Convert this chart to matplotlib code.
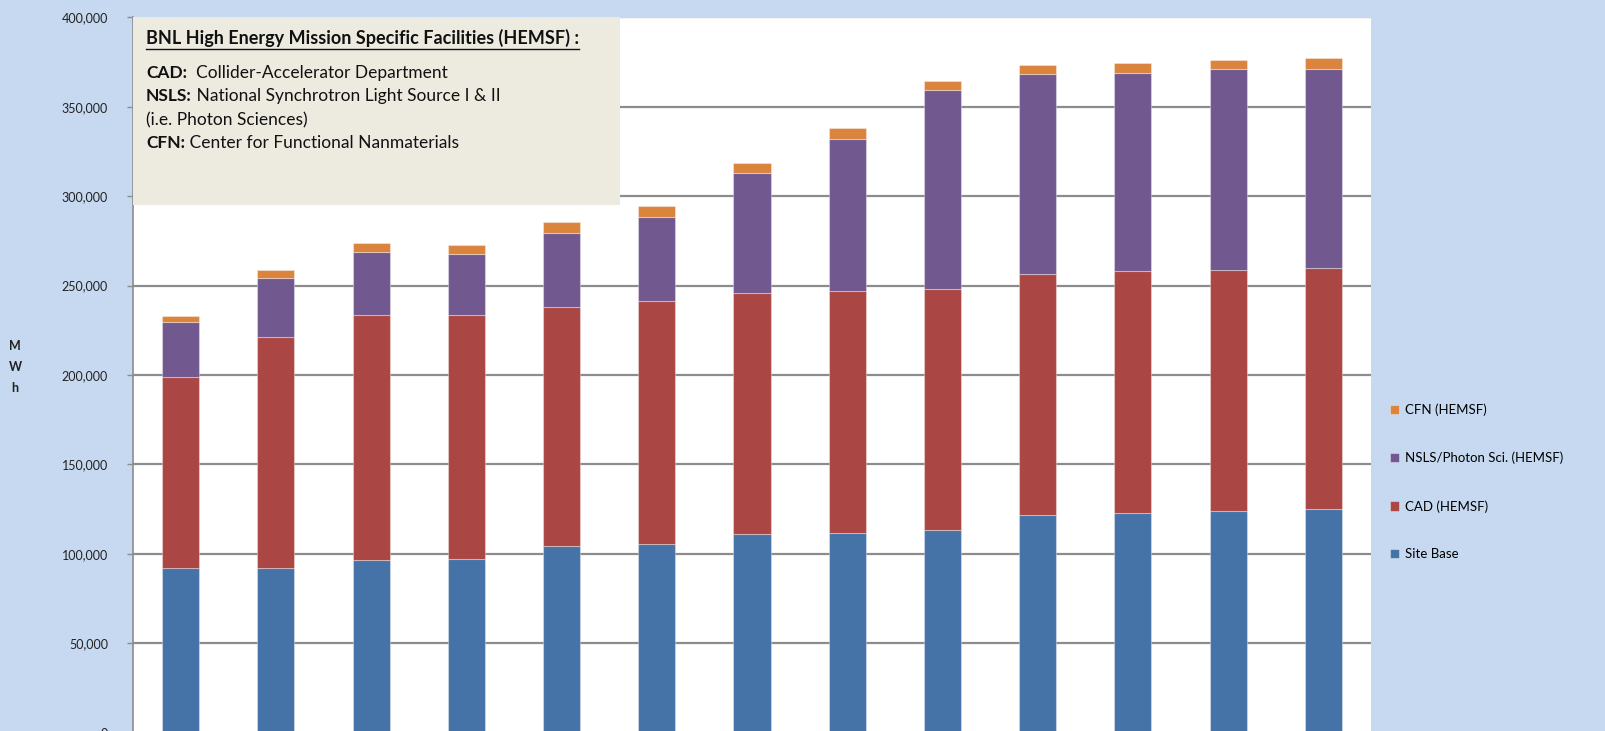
import numpy as np
import matplotlib.pyplot as plt
from matplotlib.lines import Line2D
from matplotlib.text import Annotation

# fiscal years are cut off in the source image; 13 stacked columns
categories = ["FY%d" % y for y in range(2011, 2024)]
site_base = [91800, 91800, 96500, 97000, 104500, 105300, 110900, 111400, 113300, 121700, 122900, 123900, 125000]
cad = [106900, 129200, 137000, 136500, 133700, 136100, 134800, 135700, 134800, 134600, 135200, 134800, 135000]
nsls = [31100, 33300, 35100, 34000, 41100, 47200, 67100, 85200, 111300, 112000, 110900, 112300, 111100]
cfn = [3200, 4700, 5400, 5200, 6200, 6000, 5900, 5900, 5200, 5400, 5800, 5200, 6000]
series_names = ["Site Base", "CAD (HEMSF)", "NSLS/Photon Sci. (HEMSF)", "CFN (HEMSF)"]
yticks = [0, 50000, 100000, 150000, 200000, 250000, 300000, 350000, 400000]

colors = ["#4572A7", "#AA4643", "#71588F", "#DB843D"]
bg = "#C6D9F0"

plt.rcParams['font.family'] = ['Lato', 'DejaVu Sans']

fig = plt.figure(figsize=(16.06, 7.31), dpi=100, facecolor=bg)
ax = fig.add_axes([133 / 1606, -1.5 / 731, (1371 - 133) / 1606, (732.5 - 17.5) / 731])
ax.set_facecolor("white")

x = np.arange(len(categories))
bottom = np.zeros(len(categories))
handles = []
for vals, name, c in zip([site_base, cad, nsls, cfn], series_names, colors):
    b = ax.bar(x, vals, width=0.39, bottom=bottom, color=c, label=name,
               edgecolor=(1, 1, 1, 0.35), linewidth=0.8, zorder=3)
    handles.append(b)
    bottom += np.array(vals)

ax.set_xlim(-0.5, len(categories) - 0.5)
ax.set_ylim(0, 400000)
ax.set_yticks(yticks)
ax.set_yticklabels(["{:,}".format(v) for v in yticks], fontsize=9, color="#222222")
ax.set_xticks([])
ax.yaxis.grid(True, color="#8c8c8c", linewidth=1.6, zorder=1)
ax.tick_params(axis="y", length=4, width=1, color="#8c8c8c", pad=14)
for s in ["top", "right", "bottom"]:
    ax.spines[s].set_visible(False)
ax.spines["left"].set_color("#8c8c8c")
ax.spines["left"].set_linewidth(1.2)

fig.text(15 / 1606, 0.498, "M\nW\nh", fontsize=9, fontweight="bold", ha="center",
         va="center", linespacing=1.9, color="#222222")

# note box in the top-left corner
box = plt.Rectangle((133 / 1606, 1 - 205 / 731), (620 - 133) / 1606, (205 - 17.5) / 731,
                    transform=fig.transFigure, facecolor="#EDEAE0", edgecolor="none", zorder=5)
fig.patches.append(box)

title = fig.text(146 / 1606, 1 - 38 / 731, "BNL High Energy Mission Specific Facilities (HEMSF) :",
                 fontsize=13, fontweight="bold", va="center", color="#111111", zorder=6)
lines = [("CAD:", "  Collider-Accelerator Department", 73),
         ("NSLS:", " National Synchrotron Light Source I & II", 96),
         ("", "(i.e. Photon Sciences)", 120),
         ("CFN:", " Center for Functional Nanmaterials", 143)]
for pre, rest, yy in lines:
    t = fig.text(146 / 1606, 1 - yy / 731, pre, fontsize=12.5, fontweight="bold",
                 va="center", color="#111111", zorder=6)
    a = Annotation(rest, xy=(1, 0.5), xycoords=t, va="center", ha="left",
                   fontsize=12.5, color="#111111", annotation_clip=False)
    a.set_zorder(6)
    fig.add_artist(a)

fig.canvas.draw()
bb = title.get_window_extent().transformed(fig.transFigure.inverted())
fig.lines.append(Line2D([bb.x0, bb.x1], [bb.y0 - 0.002, bb.y0 - 0.002], transform=fig.transFigure,
                        color="#111111", linewidth=1, zorder=7))

fig.legend(handles[::-1], series_names[::-1], loc="center left",
           bbox_to_anchor=(1383 / 1606, 1 - 482 / 731), frameon=False, fontsize=9.5,
           handlelength=0.7, handleheight=0.7, handletextpad=0.5, labelspacing=2.7,
           borderpad=0)

fig.savefig("out.png", dpi=100, facecolor=bg)
